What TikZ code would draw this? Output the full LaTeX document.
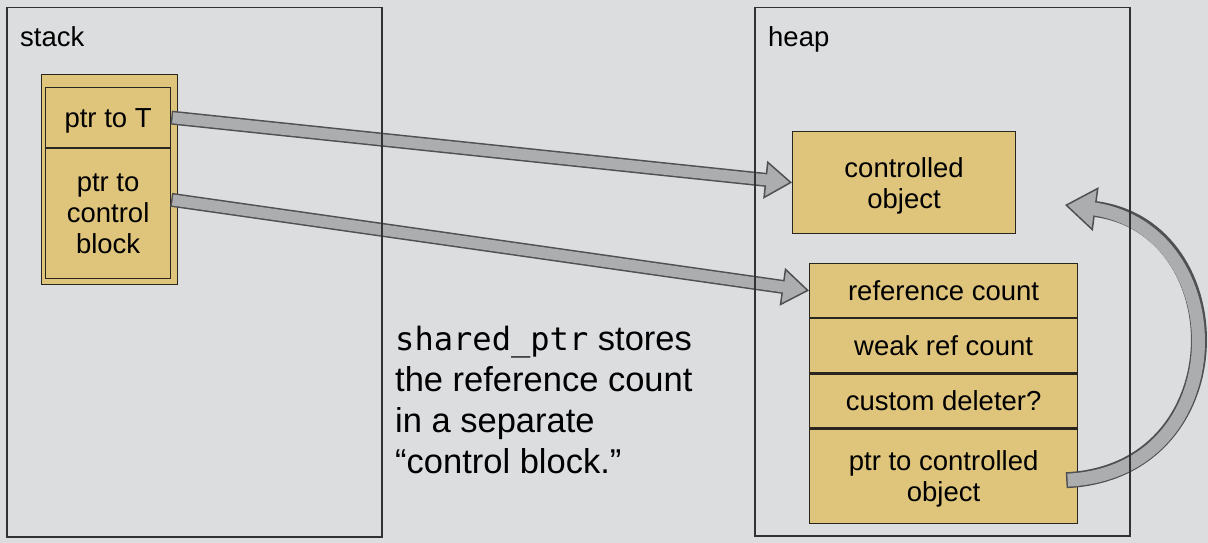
\documentclass[tikz,border=0pt]{standalone}
\usepackage{fontspec}
\setmainfont{Liberation Sans}
\setmonofont{DejaVu Sans Mono}[Scale=0.93]
\usetikzlibrary{arrows.meta,positioning}

\definecolor{slidebg}{RGB}{220,221,223}
\definecolor{cellfill}{RGB}{223,196,124}
\definecolor{celledge}{RGB}{40,38,30}
\definecolor{framegray}{RGB}{50,50,52}
\definecolor{arrowfill}{RGB}{172,173,175}
\definecolor{arrowedge}{RGB}{80,80,82}

\newcommand{\cellfont}{\fontsize{27.5}{31}\selectfont}
\newcommand{\notefont}{\fontsize{34.5}{41}\selectfont}

\tikzset{
	frame/.style={draw=framegray, line width=1.5pt, inner sep=0pt, anchor=north west},
	cell/.style={draw=celledge, fill=cellfill, line width=1.2pt, inner sep=0pt,
		align=center, font=\cellfont, text depth=0pt},
	fatedge/.style={line width=14pt, draw=arrowedge,
		-{Triangle[length=27pt, width=38pt, line width=1.5pt, fill=arrowfill, color=arrowedge]}},
	fatcore/.style={line width=11pt, draw=arrowfill, shorten >=22pt, shorten <=1.5pt},
}

\begin{document}
\begin{tikzpicture}[x=1pt, y=-1pt]
				% Background of the slide
				\useasboundingbox (0,0) rectangle (1208,543);
				\fill [slidebg] (0,0) rectangle (1208,543);
				% Stack side: the shared_ptr itself
				\node [cell, anchor=north west, minimum width=136pt, minimum height=210pt] (sptr) at (41,74) {};
				\node [cell, anchor=north west, minimum width=125pt, minimum height=60pt] (ptrT) at (45,87) {ptr to T};
				\node [cell, minimum width=125pt, minimum height=130pt, below=0pt of ptrT] (ptrcb) {ptr to\\control\\block};
				% Heap side: object and control block
				\node [cell, anchor=north west, minimum width=223pt, minimum height=102pt] (obj) at (792,131) {controlled\\object};
				\node [cell, anchor=north west, minimum width=268pt, minimum height=54pt] (refcnt) at (809,263) {reference count};
				\node [cell, minimum width=268pt, minimum height=54pt, below=0pt of refcnt] (weakcnt) {weak ref count};
				\node [cell, minimum width=268pt, minimum height=54pt, below=0pt of weakcnt] (deleter) {custom deleter?};
				\node [cell, minimum width=268pt, minimum height=94pt, below=0pt of deleter] (ptrobj) {ptr to controlled\\object};
				% The note in the middle
				\node [anchor=north west, align=left, inner sep=0pt, font=\notefont] (note) at (395,326)
					{\texttt{shared\_ptr} stores\\the reference count\\in a separate\\“control block.”};
				% Draw the pointers
				\coordinate (objback) at (1065,205);
				\draw [fatedge] (ptrT.east) -- (obj.west);
				\draw [fatcore] (ptrT.east) -- (obj.west);
				\draw [fatedge] ([yshift=14pt]ptrcb.east) -- (refcnt.west);
				\draw [fatcore] ([yshift=14pt]ptrcb.east) -- (refcnt.west);
				\draw [fatedge, line width=16pt, -{Triangle[length=31pt, width=44pt, line width=1.5pt, fill=arrowfill, color=arrowedge]}]
					([xshift=-12pt, yshift=-4pt]ptrobj.east) .. controls (1238,472) and (1238,228) .. (objback);
				\draw [fatcore, line width=13pt, shorten >=26pt]
					([xshift=-12pt, yshift=-4pt]ptrobj.east) .. controls (1238,472) and (1238,228) .. (objback);
				% Frames of the two memory areas, on top
				\node [frame, minimum width=375pt, minimum height=529pt] (stack) at (6,7) {};
				\node [frame, minimum width=375pt, minimum height=528pt] (heap) at (754,7) {};
				\node [anchor=base west, inner sep=0pt, font=\cellfont] (stacklbl) at (20,46.5) {stack};
				\node [anchor=base west, inner sep=0pt, font=\cellfont] (heaplbl) at (768,46.5) {heap};
\end{tikzpicture}
\end{document}
